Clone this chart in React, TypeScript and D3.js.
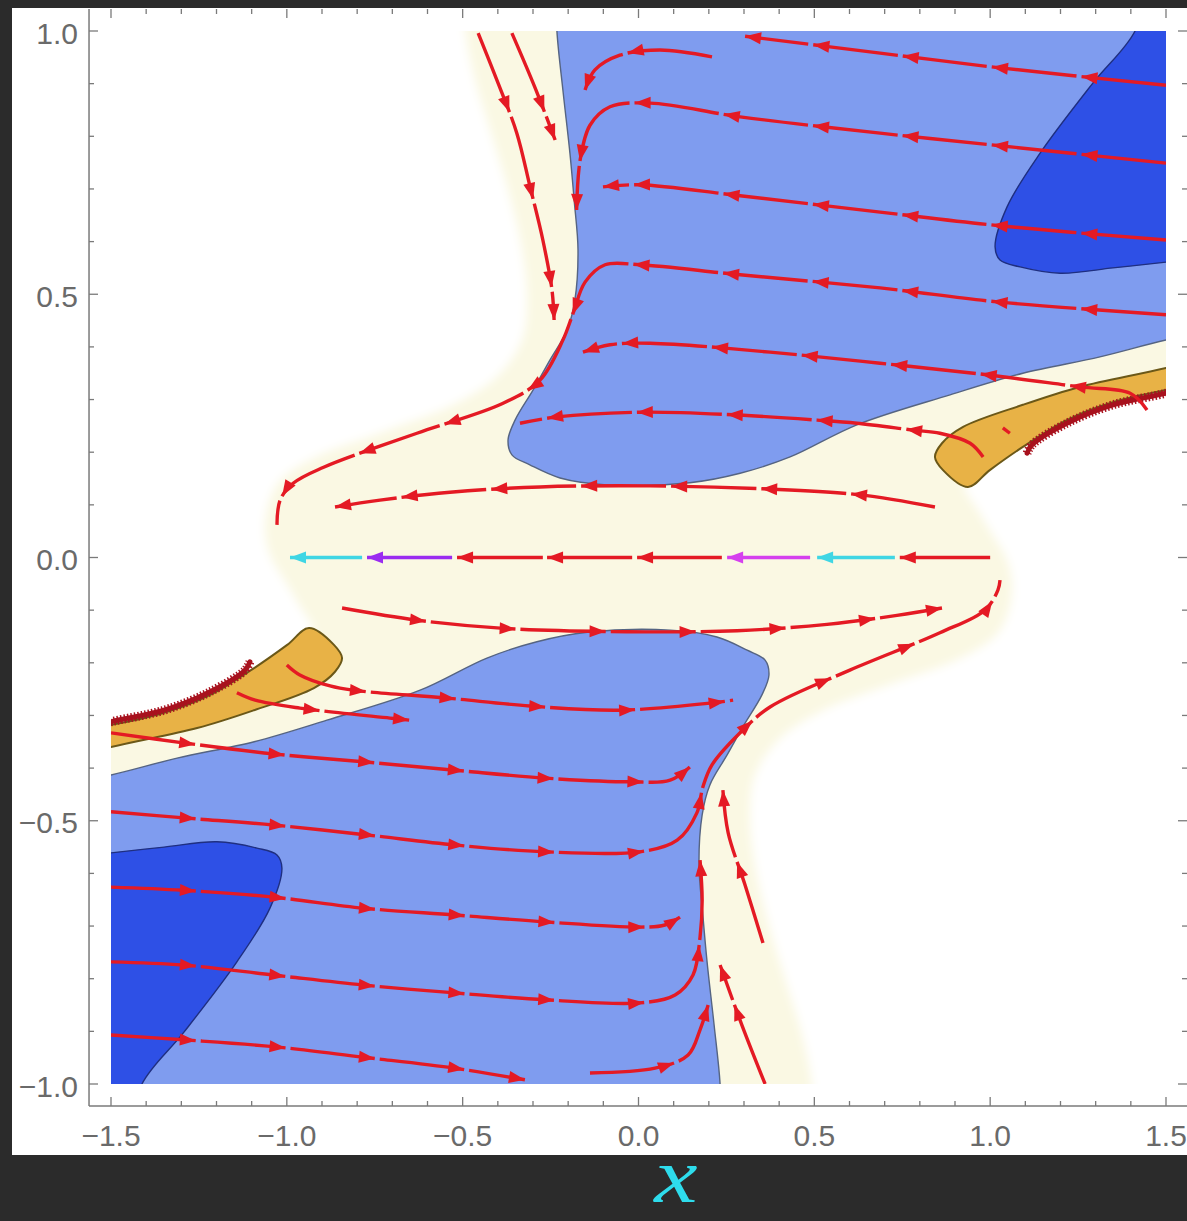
import React, { useEffect, useRef } from "react";
import * as d3 from "d3";

type P = [number, number];

// ---------- axes ----------
const xTickValues = [-1.5, -1.0, -0.5, 0.0, 0.5, 1.0, 1.5];
const xTickLabels = ["−1.5", "−1.0", "−0.5", "0.0", "0.5", "1.0", "1.5"];
const yTickValues = [-1.0, -0.5, 0.0, 0.5, 1.0];
const yTickLabels = ["−1.0", "−0.5", "0.0", "0.5", "1.0"];
const axisLabel = "x";

// ---------- regions (data coordinates) ----------
const whiteUpperLeftEdge: P[] = [
  [-0.5, 1.1], [-0.493, 1.0], [-0.465, 0.907], [-0.422, 0.812], [-0.371, 0.698],
  [-0.331, 0.584], [-0.317, 0.489], [-0.331, 0.413], [-0.4, 0.345], [-0.52, 0.292],
  [-0.72, 0.24], [-0.92, 0.19], [-1.02, 0.145], [-1.055, 0.095], [-1.062, 0.045],
  [-1.045, 0.0], [-1.005, -0.045], [-0.965, -0.09], [-0.925, -0.14], [-0.96, -0.165],
  [-1.05, -0.215], [-1.2, -0.27], [-1.35, -0.31], [-1.5, -0.335], [-1.7, -0.37],
];
const whiteUpperLeftOuter: P[] = [[-1.7, 1.1]];

const whiteLowerRightEdge: P[] = [
  [0.5, -1.1], [0.493, -1.0], [0.465, -0.907], [0.422, -0.812], [0.371, -0.698],
  [0.331, -0.584], [0.317, -0.489], [0.331, -0.413], [0.4, -0.345], [0.52, -0.292],
  [0.72, -0.24], [0.92, -0.19], [1.02, -0.145], [1.055, -0.095], [1.062, -0.045],
  [1.045, 0.0], [1.005, 0.045], [0.965, 0.09], [0.925, 0.14], [0.96, 0.165],
  [1.05, 0.215], [1.2, 0.27], [1.35, 0.31], [1.5, 0.335], [1.7, 0.37],
];
const whiteLowerRightOuter: P[] = [[1.7, -1.1]];

const blueUpperEdge: P[] = [
  [-0.235, 1.1], [-0.232, 1.0], [-0.215, 0.888], [-0.195, 0.768], [-0.183, 0.679],
  [-0.172, 0.584], [-0.181, 0.489], [-0.203, 0.432], [-0.252, 0.375], [-0.3, 0.318],
  [-0.351, 0.261], [-0.371, 0.223], [-0.36, 0.195], [-0.309, 0.176], [-0.223, 0.151],
  [-0.09, 0.138], [0.146, 0.142], [0.289, 0.16], [0.431, 0.191], [0.621, 0.252],
  [0.886, 0.309], [1.093, 0.35], [1.312, 0.381], [1.5, 0.413], [1.7, 0.44],
];
const blueUpperOuter: P[] = [[1.7, 1.1]];

const blueLowerEdge: P[] = [
  [0.235, -1.1], [0.232, -1.0], [0.215, -0.888], [0.195, -0.768], [0.183, -0.679],
  [0.172, -0.584], [0.181, -0.489], [0.203, -0.432], [0.252, -0.375], [0.3, -0.318],
  [0.351, -0.261], [0.371, -0.223], [0.36, -0.195], [0.309, -0.176], [0.223, -0.151],
  [0.09, -0.138], [-0.146, -0.142], [-0.289, -0.16], [-0.431, -0.191], [-0.621, -0.252],
  [-0.886, -0.309], [-1.093, -0.35], [-1.312, -0.381], [-1.5, -0.413], [-1.7, -0.44],
];
const blueLowerOuter: P[] = [[-1.7, -1.1]];

const darkUpperRightEdge: P[] = [
  [1.45, 1.1], [1.412, 1.0], [1.292, 0.901], [1.142, 0.768], [1.048, 0.666],
  [1.014, 0.59], [1.028, 0.565], [1.085, 0.552], [1.199, 0.54], [1.349, 0.55],
  [1.5, 0.561], [1.7, 0.575],
];
const darkUpperRightOuter: P[] = [[1.7, 1.1]];

const darkLowerLeftEdge: P[] = [
  [-1.45, -1.1], [-1.412, -1.0], [-1.292, -0.901], [-1.142, -0.768], [-1.048, -0.666],
  [-1.014, -0.59], [-1.028, -0.565], [-1.085, -0.552], [-1.199, -0.54], [-1.349, -0.55],
  [-1.5, -0.561], [-1.7, -0.575],
];
const darkLowerLeftOuter: P[] = [[-1.7, -1.1]];

const orangeRight: P[] = [
  [1.7, 0.395], [1.5, 0.36], [1.255, 0.324], [1.093, 0.29], [0.923, 0.248],
  [0.863, 0.217], [0.843, 0.191], [0.866, 0.166], [0.937, 0.134], [0.999, 0.166],
  [1.093, 0.21], [1.218, 0.261], [1.349, 0.295], [1.5, 0.318], [1.7, 0.34],
];
const orangeLeft: P[] = [
  [-1.7, -0.395], [-1.5, -0.36], [-1.255, -0.324], [-1.093, -0.29], [-0.923, -0.248],
  [-0.863, -0.217], [-0.843, -0.191], [-0.866, -0.166], [-0.937, -0.134], [-0.999, -0.166],
  [-1.093, -0.21], [-1.218, -0.261], [-1.349, -0.295], [-1.5, -0.318], [-1.7, -0.34],
];
const wallRight: P[] = [[1.105, 0.198], [1.119, 0.214], [1.218, 0.255], [1.349, 0.29], [1.5, 0.312], [1.6, 0.33]];
const wallLeft: P[] = [[-1.105, -0.198], [-1.119, -0.214], [-1.218, -0.255], [-1.349, -0.29], [-1.5, -0.312], [-1.6, -0.33]];

// ---------- streamlines (listed in flow direction) ----------
const streamU1: P[] = [[1.5, 0.897], [1.028, 0.93], [0.687, 0.958], [0.303, 0.99]];
const streamU2: P[] = [[0.209, 0.951], [0.061, 0.964], [-0.053, 0.954], [-0.124, 0.926], [-0.152, 0.888]];
const streamU3: P[] = [[1.5, 0.749], [1.028, 0.782], [0.687, 0.806], [0.289, 0.837], [0.033, 0.863], [-0.081, 0.856], [-0.138, 0.821], [-0.166, 0.755], [-0.176, 0.66]];
const streamU4: P[] = [[1.5, 0.603], [1.028, 0.63], [0.687, 0.656], [0.289, 0.687], [0.004, 0.708], [-0.101, 0.704]];
const streamU5: P[] = [[1.5, 0.461], [1.028, 0.485], [0.687, 0.512], [0.289, 0.537], [0.004, 0.556], [-0.095, 0.556], [-0.152, 0.523], [-0.186, 0.464], [-0.215, 0.413], [-0.28, 0.337], [-0.385, 0.293], [-0.63, 0.236], [-0.897, 0.171], [-0.982, 0.141], [-1.019, 0.109], [-1.028, 0.062]];
const streamU6: P[] = [[1.446, 0.28], [1.398, 0.312], [1.255, 0.324], [0.991, 0.347], [0.687, 0.369], [0.374, 0.39], [0.033, 0.407], [-0.081, 0.404], [-0.158, 0.39]];
const streamU7: P[] = [[0.98, 0.191], [0.943, 0.217], [0.857, 0.236], [0.781, 0.242], [0.621, 0.255], [0.508, 0.261], [0.269, 0.271], [0.013, 0.276], [-0.232, 0.267], [-0.337, 0.255]];
const streamU7b: P[] = [[1.056, 0.236], [1.036, 0.246]];
const streamU8: P[] = [[0.843, 0.096], [0.63, 0.119], [0.374, 0.13], [0.033, 0.136], [-0.28, 0.134], [-0.536, 0.124], [-0.735, 0.109], [-0.863, 0.096]];
const streamJ1: P[] = [[-0.456, 0.996], [-0.397, 0.897], [-0.346, 0.806], [-0.309, 0.706], [-0.272, 0.603], [-0.246, 0.508], [-0.24, 0.451]];
const streamJ2: P[] = [[-0.36, 0.996], [-0.294, 0.892], [-0.237, 0.793]];

const streamD8: P[] = [[-0.843, -0.096], [-0.63, -0.119], [-0.374, -0.135], [-0.033, -0.141], [0.28, -0.139], [0.536, -0.127], [0.735, -0.11], [0.863, -0.096]];
const streamD7: P[] = [[-1.0, -0.204], [-0.963, -0.223], [-0.877, -0.244], [-0.812, -0.252], [-0.545, -0.267], [-0.309, -0.282], [-0.053, -0.29], [0.212, -0.276], [0.269, -0.271]];
const streamD6: P[] = [[-1.142, -0.257], [-1.09, -0.271], [-0.963, -0.286], [-0.707, -0.305], [-0.65, -0.309]];
const streamB1: P[] = [[-1.5, -0.333], [-1.295, -0.352], [-1.039, -0.373], [-0.783, -0.388], [-0.522, -0.404], [-0.266, -0.419], [-0.024, -0.426], [0.09, -0.423], [0.146, -0.398]];
const streamB2: P[] = [[-1.5, -0.483], [-1.284, -0.495], [-1.039, -0.508], [-0.772, -0.527], [-0.522, -0.546], [-0.266, -0.559], [0.004, -0.559], [0.11, -0.537], [0.166, -0.485], [0.183, -0.436], [0.209, -0.394], [0.289, -0.333], [0.374, -0.284], [0.601, -0.214], [0.857, -0.143], [0.985, -0.1], [1.022, -0.062], [1.028, -0.043]];
const streamB3: P[] = [[-1.5, -0.626], [-1.295, -0.632], [-1.039, -0.645], [-0.783, -0.666], [-0.522, -0.679], [-0.266, -0.692], [0.004, -0.702], [0.075, -0.698], [0.118, -0.683]];
const streamB4: P[] = [[-1.5, -0.768], [-1.295, -0.774], [-1.039, -0.793], [-0.783, -0.812], [-0.522, -0.827], [-0.266, -0.84], [0.004, -0.846], [0.104, -0.831], [0.155, -0.793], [0.175, -0.721], [0.181, -0.651], [0.175, -0.575]];
const streamB5: P[] = [[-1.5, -0.907], [-1.295, -0.916], [-1.039, -0.929], [-0.783, -0.949], [-0.522, -0.97], [-0.323, -0.992]];
const streamB6: P[] = [[-0.138, -0.979], [0.047, -0.97], [0.141, -0.945], [0.175, -0.897], [0.198, -0.85]];
const streamJ2b: P[] = [[0.36, -1.0], [0.294, -0.888], [0.232, -0.774]];
const streamJ3b: P[] = [[0.354, -0.732], [0.303, -0.622], [0.255, -0.523], [0.24, -0.442]];

const streams: P[][] = [
  streamU1, streamU2, streamU3, streamU4, streamU5, streamU6, streamU7, streamU7b, streamU8,
  streamJ1, streamJ2, streamD8, streamD7, streamD6, streamB1, streamB2, streamB3, streamB4,
  streamB5, streamB6, streamJ2b, streamJ3b,
];

// y = 0 separatrix, segments from right to left, with speed class
const zeroLineStart = [1.0, 0.729, 0.488, 0.237, -0.018, -0.272, -0.53, -0.786];
const zeroLineEnd = [0.743, 0.508, 0.252, -0.004, -0.26, -0.516, -0.772, -0.991];
const zeroLineClass = ["r", "c", "m", "r", "r", "r", "p", "c"];

const classColor: Record<string, string> = { r: "#e41a24", c: "#3fd6e4", m: "#d540ee", p: "#9a2cf0" };

export default function App() {
  const ref = useRef<SVGSVGElement>(null);
  useEffect(() => {
    const svg = d3.select(ref.current);
    svg.selectAll("*").remove();
    const xs = d3.scaleLinear().domain([-1.5, 1.5]).range([111, 1166]);
    const ys = d3.scaleLinear().domain([-1, 1]).range([1084, 31]);

    const defs = svg.append("defs");
    defs.append("clipPath").attr("id", "plotclip").append("rect")
      .attr("x", xs(-1.5)).attr("y", ys(1))
      .attr("width", xs(1.5) - xs(-1.5)).attr("height", ys(-1) - ys(1));
    const filt = defs.append("filter").attr("id", "soft").attr("filterUnits", "userSpaceOnUse")
      .attr("x", 0).attr("y", 0).attr("width", 1187).attr("height", 1221);
    filt.append("feGaussianBlur").attr("stdDeviation", 5);

    svg.append("rect").attr("width", 1187).attr("height", 1221).attr("fill", "#2b2b2b");
    svg.append("rect").attr("x", 12).attr("y", 8).attr("width", 1175).attr("height", 1147).attr("fill", "#ffffff");

    const plot = svg.append("g").attr("clip-path", "url(#plotclip)");
    plot.append("rect").attr("x", xs(-1.5)).attr("y", ys(1))
      .attr("width", xs(1.5) - xs(-1.5)).attr("height", ys(-1) - ys(1)).attr("fill", "#faf8e3");

    const curve = d3.line<P>().x(d => xs(d[0])).y(d => ys(d[1])).curve(d3.curveCatmullRom.alpha(0.5));
    const regionPath = (edge: P[], outer: P[]) =>
      curve(edge) + outer.map(p => `L${xs(p[0])},${ys(p[1])}`).join("") + "Z";

    const whites = plot.append("g").attr("filter", "url(#soft)");
    whites.append("path").attr("d", regionPath(whiteUpperLeftEdge, whiteUpperLeftOuter)).attr("fill", "#ffffff");
    whites.append("path").attr("d", regionPath(whiteLowerRightEdge, whiteLowerRightOuter)).attr("fill", "#ffffff");

    const region = (edge: P[], outer: P[], fill: string, stroke: string, sw: number) => {
      plot.append("path").attr("d", regionPath(edge, outer)).attr("fill", fill);
      plot.append("path").attr("d", curve(edge)).attr("fill", "none").attr("stroke", stroke).attr("stroke-width", sw);
    };
    region(blueUpperEdge, blueUpperOuter, "#7f9cef", "#556482", 1.4);
    region(blueLowerEdge, blueLowerOuter, "#7f9cef", "#556482", 1.4);
    region(darkUpperRightEdge, darkUpperRightOuter, "#2e50e6", "#1f2f80", 1.4);
    region(darkLowerLeftEdge, darkLowerLeftOuter, "#2e50e6", "#1f2f80", 1.4);
    region(orangeRight, [], "#e8b246", "#6b5818", 2);
    region(orangeLeft, [], "#e8b246", "#6b5818", 2);

    [wallRight, wallLeft].forEach(w => {
      plot.append("path").attr("d", curve(w)).attr("fill", "none").attr("stroke", "#a8121e").attr("stroke-width", 5).attr("stroke-linecap", "round");
      plot.append("path").attr("d", curve(w)).attr("fill", "none").attr("stroke", "#a8121e").attr("stroke-width", 9).attr("stroke-dasharray", "1.5 2");
    });

    const SEG = 90, GAP = 5, AL = 16, AW = 6;
    const arrow = (g: any, node: SVGPathElement, at: number, color: string) => {
      const a = node.getPointAtLength(at);
      const b = node.getPointAtLength(Math.max(0, at - 3));
      const ang = Math.atan2(a.y - b.y, a.x - b.x) * 180 / Math.PI;
      g.append("path").attr("d", `M0,0L${-AL},${-AW}L${-AL},${AW}Z`)
        .attr("transform", `translate(${a.x},${a.y}) rotate(${ang})`).attr("fill", color);
    };

    const sg = plot.append("g");
    streams.forEach(s => {
      const path = sg.append("path").attr("d", curve(s)).attr("fill", "none")
        .attr("stroke", classColor.r).attr("stroke-width", 3.4)
        .attr("stroke-dasharray", `${SEG - GAP} ${GAP}`);
      const node = path.node() as SVGPathElement;
      const L = node.getTotalLength();
      let last = 0;
      for (let p = SEG - GAP; p <= L; p += SEG) { arrow(sg, node, p, classColor.r); last = p; }
      if (L - last > 30) arrow(sg, node, L, classColor.r);
    });

    const lineStraight = d3.line<P>().x(d => xs(d[0])).y(d => ys(d[1]));
    zeroLineStart.forEach((x0, i) => {
      const col = classColor[zeroLineClass[i]];
      const path = sg.append("path").attr("d", lineStraight([[x0, 0], [zeroLineEnd[i], 0]]))
        .attr("fill", "none").attr("stroke", col).attr("stroke-width", 3.4);
      const node = path.node() as SVGPathElement;
      arrow(sg, node, node.getTotalLength(), col);
    });

    // frame & ticks
    const fx0 = xs(-1.5625), fy1 = ys(-1.0418);
    const ax = svg.append("g");
    ax.append("line").attr("x1", fx0).attr("x2", fx0).attr("y1", 9).attr("y2", fy1).attr("stroke", "#7a7a7a").attr("stroke-width", 1.5);
    ax.append("line").attr("x1", fx0).attr("x2", 1187).attr("y1", fy1).attr("y2", fy1).attr("stroke", "#7a7a7a").attr("stroke-width", 1.5);
    const xMinor = d3.range(-15, 16).map(i => i / 10);
    const yMinor = d3.range(-10, 11).map(i => i / 10);
    xMinor.forEach(v => {
      const major = Math.abs(v * 2 - Math.round(v * 2)) < 1e-6;
      const len = major ? 9 : 5;
      ax.append("line").attr("x1", xs(v)).attr("x2", xs(v)).attr("y1", fy1).attr("y2", fy1 - len).attr("stroke", "#7a7a7a").attr("stroke-width", 1.3);
      ax.append("line").attr("x1", xs(v)).attr("x2", xs(v)).attr("y1", 9).attr("y2", 9 + len).attr("stroke", "#7a7a7a").attr("stroke-width", 1.3);
    });
    yMinor.forEach(v => {
      const major = Math.abs(v * 2 - Math.round(v * 2)) < 1e-6;
      const len = major ? 9 : 5;
      ax.append("line").attr("x1", fx0).attr("x2", fx0 + len).attr("y1", ys(v)).attr("y2", ys(v)).attr("stroke", "#7a7a7a").attr("stroke-width", 1.3);
      ax.append("line").attr("x1", 1187).attr("x2", 1187 - len).attr("y1", ys(v)).attr("y2", ys(v)).attr("stroke", "#7a7a7a").attr("stroke-width", 1.3);
    });
    xTickValues.forEach((v, i) => {
      ax.append("text").attr("x", xs(v)).attr("y", 1146).attr("text-anchor", "middle")
        .attr("font-family", "'Liberation Sans', Arial, sans-serif").attr("font-size", 30).attr("fill", "#6a6a6a").text(xTickLabels[i]);
    });
    yTickValues.forEach((v, i) => {
      ax.append("text").attr("x", 78).attr("y", ys(v) + 12.5).attr("text-anchor", "end")
        .attr("font-family", "'Liberation Sans', Arial, sans-serif").attr("font-size", 30).attr("fill", "#6a6a6a").text(yTickLabels[i]);
    });
    svg.append("text").attr("x", 0).attr("y", 0).attr("text-anchor", "middle")
      .attr("transform", "translate(676,1202) scale(1.25,1)")
      .attr("font-family", "'Liberation Serif', 'Times New Roman', serif").attr("font-style", "italic").attr("font-size", 78)
      .attr("fill", "#2edcec").text(axisLabel);
  }, []);

  return (
    <div style={{ position: "absolute", left: 0, top: 0 }}>
      <svg ref={ref} width={1187} height={1221} style={{ display: "block" }} />
    </div>
  );
}
